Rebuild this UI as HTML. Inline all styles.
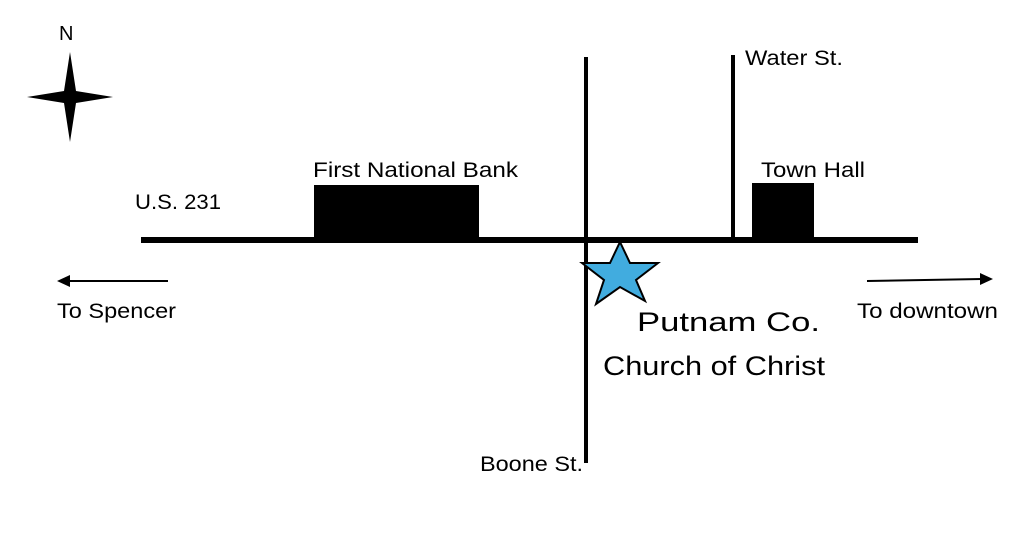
<!DOCTYPE html>
<html><head><style>
body{margin:0;background:#fff;width:1023px;height:545px;overflow:hidden}
svg{display:block}
text{font-family:"Liberation Sans",sans-serif;fill:#000}
</style></head><body>
<svg width="1023" height="545" viewBox="0 0 1023 545">
<text x="59" y="40" font-size="20">N</text>
<path d="M70 52 L76 91 L113 97 L76 103 L70 142 L64 103 L27 97 L64 91 Z" fill="#000"/>
<rect x="141" y="237" width="777" height="6" fill="#000"/>
<rect x="584" y="57" width="4" height="406" fill="#000"/>
<rect x="731" y="55" width="4" height="182" fill="#000"/>
<rect x="314" y="185" width="165" height="55" fill="#000"/>
<rect x="752" y="183" width="62" height="57" fill="#000"/>
<text x="745" y="65" font-size="21" textLength="98" lengthAdjust="spacingAndGlyphs">Water St.</text>
<text x="313" y="177" font-size="21" textLength="205" lengthAdjust="spacingAndGlyphs">First National Bank</text>
<text x="761" y="177" font-size="21" textLength="104" lengthAdjust="spacingAndGlyphs">Town Hall</text>
<text x="135" y="209" font-size="21" textLength="86" lengthAdjust="spacingAndGlyphs">U.S. 231</text>
<text x="480" y="471" font-size="21" textLength="103" lengthAdjust="spacingAndGlyphs">Boone St.</text>
<line x1="168" y1="281" x2="66" y2="281" stroke="#000" stroke-width="2"/>
<path d="M57 281 L70 275 L70 287 Z" fill="#000"/>
<text x="57" y="318" font-size="21" textLength="119" lengthAdjust="spacingAndGlyphs">To Spencer</text>
<line x1="867" y1="281" x2="982" y2="279" stroke="#000" stroke-width="2"/>
<path d="M993 279 L980 273 L980 285 Z" fill="#000"/>
<text x="857" y="318" font-size="21" textLength="141" lengthAdjust="spacingAndGlyphs">To downtown</text>
<path d="M620 242 L630 263 L658 263 L636 280 L645 301 L620 287 L596 304 L604 280 L582 263 L610 263 Z" fill="#41acdf" stroke="#000" stroke-width="2"/>
<text x="637" y="331" font-size="27" textLength="183" lengthAdjust="spacingAndGlyphs">Putnam Co.</text>
<text x="603" y="375" font-size="27" textLength="222" lengthAdjust="spacingAndGlyphs">Church of Christ</text>
</svg>
</body></html>
